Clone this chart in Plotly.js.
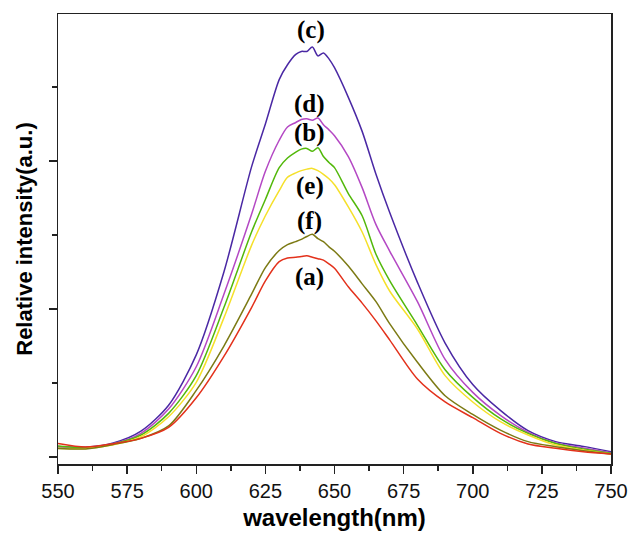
<!DOCTYPE html>
<html>
<head>
<meta charset="utf-8">
<script src="https://cdn.plot.ly/plotly-3.0.1.min.js"></script>
<style>html,body{margin:0;padding:0;background:#fff;}#chart{width:632px;height:534px;}</style>
</head>
<body>
<div id="chart"></div>
<script>
// wavelength (nm)
const wavelength = [550,560,570,580,590,600,610,620,625,630,633,636,638,640,642,644,646,648,650,655,660,665,670,680,690,700,710,720,730,740,750];
// relative intensity (a.u.) per sample
const seriesA = [0.092,0.068,0.090,0.126,0.200,0.400,0.680,1.010,1.190,1.320,1.345,1.350,1.355,1.360,1.350,1.340,1.330,1.305,1.275,1.150,1.040,0.920,0.790,0.527,0.372,0.266,0.160,0.088,0.059,0.036,0.020];
const seriesB = [0.074,0.062,0.088,0.149,0.295,0.550,1.010,1.520,1.740,1.955,2.020,2.060,2.080,2.085,2.065,2.090,2.030,1.990,1.955,1.780,1.630,1.370,1.190,0.890,0.590,0.403,0.259,0.160,0.092,0.054,0.025];
const seriesC = [0.070,0.066,0.095,0.175,0.350,0.690,1.250,1.960,2.250,2.550,2.650,2.720,2.740,2.740,2.770,2.710,2.730,2.690,2.630,2.430,2.200,1.910,1.650,1.180,0.770,0.490,0.315,0.178,0.104,0.072,0.036];
const seriesD = [0.072,0.064,0.090,0.160,0.324,0.610,1.100,1.640,1.930,2.140,2.230,2.260,2.280,2.285,2.275,2.290,2.245,2.210,2.170,2.030,1.820,1.570,1.390,1.050,0.660,0.437,0.282,0.167,0.095,0.061,0.029];
const seriesE = [0.060,0.058,0.083,0.137,0.272,0.505,0.940,1.430,1.630,1.800,1.890,1.920,1.935,1.945,1.950,1.935,1.910,1.880,1.840,1.690,1.520,1.300,1.120,0.865,0.550,0.372,0.239,0.149,0.081,0.047,0.020];
const seriesF = [0.058,0.055,0.085,0.126,0.210,0.450,0.750,1.100,1.280,1.395,1.435,1.455,1.470,1.490,1.505,1.475,1.455,1.420,1.390,1.290,1.170,1.050,0.900,0.640,0.414,0.288,0.182,0.104,0.070,0.043,0.020];
const seriesNames = ['(a)','(b)','(c)','(d)','(e)','(f)'];
const xTicks = [550,575,600,625,650,675,700,725,750];

const colors = ['#e3311b','#52b80a','#4a28a4','#b448c4','#f5e02a','#7c7a14'];
const allSeries = [seriesA, seriesB, seriesC, seriesD, seriesE, seriesF];
const order = [2,3,1,4,5,0];
const traces = order.map(i => ({
  x: wavelength, y: allSeries[i], type: 'scatter', mode: 'lines',
  name: seriesNames[i], line: {color: colors[i], width: 1.5, shape: 'spline', smoothing: 0.8}, hoverinfo: 'skip'
}));

// label positions (data coordinates)
const labelPos = {'(a)': [641, 1.215], '(b)': [641, 2.19], '(c)': [641.5, 2.885], '(d)': [641, 2.385], '(e)': [641, 1.83], '(f)': [641, 1.595]};
const annotations = seriesNames.map(n => ({
  x: labelPos[n][0], y: labelPos[n][1], xref: 'x', yref: 'y', text: '<b>' + n + '</b>',
  showarrow: false, font: {family: 'Liberation Serif, Times New Roman, serif', size: 25, color: '#000'}
}));

const layout = {
  width: 632, height: 534,
  paper_bgcolor: '#fff', plot_bgcolor: '#fff',
  margin: {l: 58, r: 21, t: 14, b: 70},
  showlegend: false,
  font: {family: 'Liberation Sans, Arial, sans-serif', color: '#000'},
  xaxis: {
    range: [550, 750], tickvals: xTicks, ticktext: xTicks.map(String),
    ticks: 'outside', ticklen: 8, tickwidth: 1.5, tickcolor: '#222',
    minor: {dtick: 12.5, tick0: 550, ticks: 'outside', ticklen: 5, tickwidth: 1.5, tickcolor: '#222'},
    showline: true, linecolor: '#222', linewidth: 1.5, mirror: true,
    showgrid: false, zeroline: false,
    tickfont: {size: 20, family: 'Liberation Sans, Arial, sans-serif', color: '#111'},
    title: {text: '<b>wavelength(nm)</b>', font: {size: 24, family: 'Liberation Sans, Arial, sans-serif', color: '#000'}, standoff: 8}
  },
  yaxis: {
    range: [-0.047, 2.993], tickvals: [0, 1, 2], showticklabels: false,
    ticks: 'outside', ticklen: 8, tickwidth: 1.5, tickcolor: '#222',
    minor: {tickvals: [0.5, 1.5, 2.5], ticks: 'outside', ticklen: 5, tickwidth: 1.5, tickcolor: '#222'},
    showline: true, linecolor: '#222', linewidth: 1.5, mirror: true,
    showgrid: false, zeroline: false,
    title: {text: '<b>Relative intensity(a.u.)</b>', font: {size: 22, family: 'Liberation Sans, Arial, sans-serif', color: '#000'}, standoff: 10}
  },
  annotations: annotations
};

Plotly.newPlot('chart', traces, layout, {displayModeBar: false, staticPlot: true});
</script>
</body>
</html>
